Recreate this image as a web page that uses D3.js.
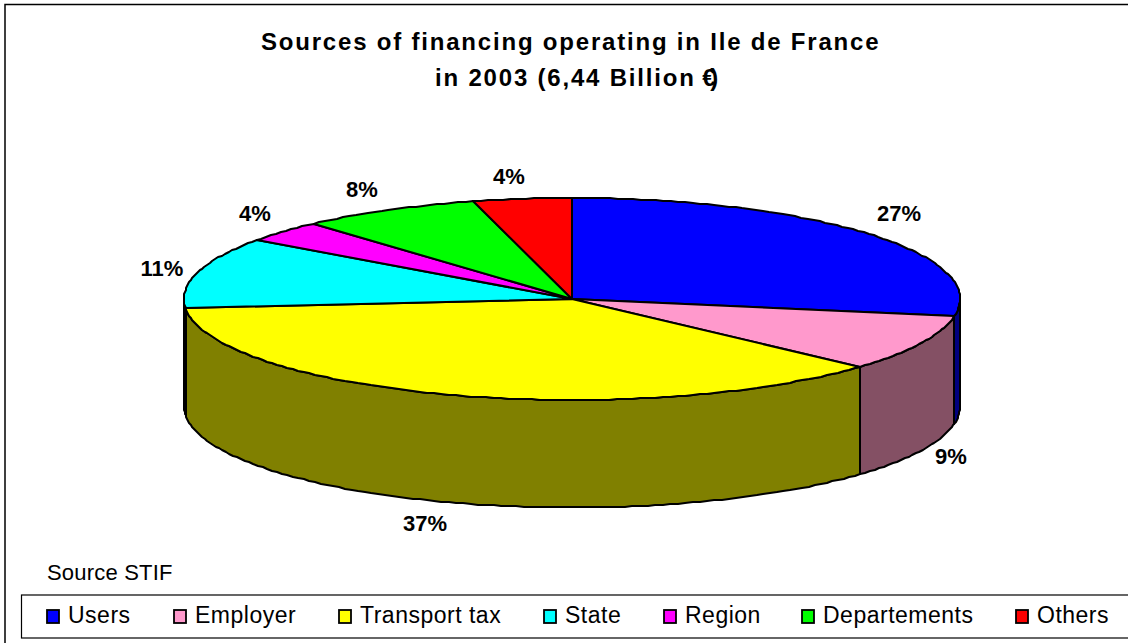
<!DOCTYPE html>
<html><head><meta charset="utf-8">
<script src="https://cdn.jsdelivr.net/npm/d3@7"></script>
<style>html,body{margin:0;padding:0;background:#fff}svg{display:block}text{font-family:"Liberation Sans",Arial,sans-serif;fill:#000}</style>
</head><body><svg id="c" width="1128" height="643"></svg>
<script>
const categories=["Users","Employer","Transport tax","State","Region","Departements","Others"];
const shares=[27.7,9,36.9,11.3,3.5,7.5,4.1];
const shareLabels=["27%","9%","37%","11%","4%","8%","4%"];
const topColors=["#0000ff","#ff99cc","#ffff00","#00ffff","#ff00ff","#00ff00","#ff0000"];
const sideColors=["#000080","#845064","#808000","#008080","#800080","#008000","#800000"];
const titleLines=["Sources of financing operating in Ile de France","in 2003 (6,44 Billion €)"];
const titleX=[261,435];
const sourceNote="Source STIF";
const labelAnchors=[[899,213],[951,456],[425,523],[162,268],[255,213],[362,189],[509,176]];
const legendX=[47,174,339,544,664,802,1016];

const svg=d3.select("#c");
const cx=572,cy=299,rx=388,ry=101,depth=107.5;
const px=d3.scaleLinear().domain([-1,1]).range([cx-rx,cx+rx]);
const py=d3.scaleLinear().domain([-1,1]).range([cy-ry,cy+ry]);
const arcs=d3.pie().sort(null).value(d=>d)(shares);
const pt=(a,dy=0)=>{const p=[px(Math.sin(a)),py(-Math.cos(a))+dy];return [Math.round(p[0]),Math.round(p[1])];};
const samples=(a0,a1)=>{const n=Math.max(2,Math.ceil((a1-a0)/0.02));return d3.range(n+1).map(i=>a0+(a1-a0)*i/n);};
const line=d3.line();

svg.append("rect").attr("x",5).attr("y",4.5).attr("width",1140).attr("height",660).attr("fill","#fff").attr("stroke","#000").attr("stroke-width",1.5);

const g=svg.append("g").attr("stroke","#000").attr("stroke-width",2).attr("stroke-linejoin","round");
arcs.forEach((d,i)=>{
  const a0=Math.max(d.startAngle,Math.PI/2),a1=Math.min(d.endAngle,3*Math.PI/2);
  if(a1<=a0)return;
  const s=samples(a0,a1);
  const pts=s.map(a=>pt(a)).concat(s.slice().reverse().map(a=>pt(a,depth)));
  g.append("path").attr("d",line(pts)+"Z").attr("fill",sideColors[i]);
});
arcs.forEach((d,i)=>{
  const pts=[[cx,cy]].concat(samples(d.startAngle,d.endAngle).map(a=>pt(a)));
  g.append("path").attr("d",line(pts)+"Z").attr("fill",topColors[i]);
});

const tt=svg.append("g").attr("font-weight","bold").attr("font-size",24).attr("letter-spacing",1.8);
titleLines.forEach((t,i)=>{
  const el=tt.append("text").attr("x",titleX[i]).attr("y",50+i*36).text(t);
  if(i===1){const dx=Array.from(t,(c,k)=>k===t.length-2?-2:k===t.length-1?-7:0);el.attr("dx",dx.join(" "));}
});

svg.append("g").attr("font-weight","bold").attr("font-size",22).attr("text-anchor","middle")
 .selectAll("text").data(shareLabels).join("text")
 .attr("x",(d,i)=>labelAnchors[i][0]).attr("y",(d,i)=>labelAnchors[i][1]+7.5).text(d=>d);

svg.append("text").attr("x",47).attr("y",580).attr("font-size",22).attr("letter-spacing",0.2).text(sourceNote);

svg.append("rect").attr("x",21.5).attr("y",595).attr("width",1120).attr("height",43).attr("fill","#fff").attr("stroke","#000").attr("stroke-width",1.2);
const leg=svg.append("g").selectAll("g").data(categories).join("g").attr("transform",(d,i)=>`translate(${legendX[i]},0)`);
leg.append("rect").attr("x",0).attr("y",610).attr("width",12).attr("height",13).attr("fill",(d,i)=>topColors[i]).attr("stroke","#000").attr("stroke-width",1.8);
leg.append("text").attr("x",21).attr("y",623).attr("font-size",23).attr("letter-spacing",0.5).text(d=>d);
</script></body></html>
